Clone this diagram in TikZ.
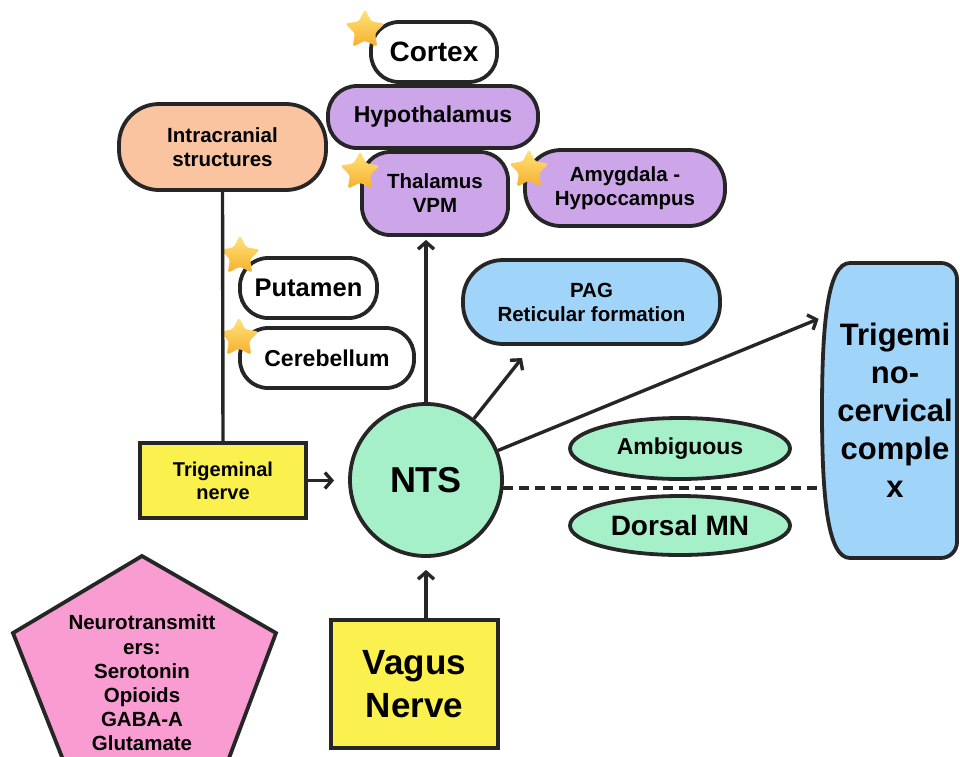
\documentclass[tikz,border=0pt]{standalone}
\usepackage{fontspec}
\setmainfont{Liberation Sans}
\usetikzlibrary{shapes.geometric,arrows.meta,calc}
\definecolor{purp}{HTML}{CDA6E9}
\definecolor{peach}{HTML}{F9C49F}
\definecolor{skyb}{HTML}{A0D4F8}
\definecolor{mint}{HTML}{A5F0C8}
\definecolor{yell}{HTML}{FAF04E}
\definecolor{pinkk}{HTML}{F89CD2}
\definecolor{stary}{HTML}{FFE57A}
\definecolor{staro}{HTML}{F7AE2E}
\newcommand\fz[2]{\bfseries\fontsize{#1}{#2}\selectfont}
\tikzset{
  box/.style={draw=black!85, line width=3.8pt, align=center, inner sep=0pt},
  pill/.style={box, rectangle},
  starmark/.style={star, star points=5, star point ratio=2.0, minimum size=42pt, inner sep=0pt,
    top color=stary, bottom color=staro, draw=none, rounded corners=3pt},
  arr/.style={line width=3.4pt, draw=black!85, -{Straight Barb[length=7pt,width=16pt,line width=3.4pt]}},
  link/.style={line width=3.4pt, draw=black!85},
}
\begin{document}
\begin{tikzpicture}[x=1pt,y=-1pt]
\useasboundingbox (0,0) rectangle (960,756);
\clip (0,0) rectangle (960,756);
% top cluster
\node[pill, fill=white, minimum width=126, minimum height=60, rounded corners=28pt, font=\fz{28}{32}] (cortex) at (434,52) {Cortex};
\node[pill, fill=purp, minimum width=210, minimum height=62, rounded corners=29pt, font=\fz{23}{27}] (hypo) at (433,117) {Hypothalamus};
\node[pill, fill=purp, minimum width=146, minimum height=83, rounded corners=28pt, font=\fz{20.5}{24}] (thal) at (435,193.5) {Thalamus\\VPM};
\node[pill, fill=purp, minimum width=200, minimum height=76, rounded corners=36pt, font=\fz{20.5}{24}] (amyg) at (625,188) {Amygdala -\\Hypoccampus};
\node[pill, fill=peach, minimum width=207, minimum height=86, rounded corners=40pt, font=\fz{20.5}{24}] (intra) at (222.5,147) {Intracranial\\structures};
\node[pill, fill=white, minimum width=137, minimum height=60, rounded corners=28pt, font=\fz{25.5}{30}] (put) at (308.5,288) {Putamen};
\node[pill, fill=white, minimum width=174, minimum height=60, rounded corners=28pt, font=\fz{23}{27}] (cereb) at (327,358) {Cerebellum};
\node[pill, fill=skyb, minimum width=257, minimum height=84, rounded corners=40pt, font=\fz{20.5}{24}] (pag) at (591.5,302) {PAG\\Reticular formation};
% middle
\node[box, rectangle, fill=yell, minimum width=166, minimum height=75, font=\fz{20}{23}] (trig) at (223,480.5) {Trigeminal\\nerve};
\node[box, circle, fill=mint, minimum size=152, font=\fz{36}{40}] (nts) at (426,480) {NTS};
\node[box, ellipse, fill=mint, minimum width=220, minimum height=61, font=\fz{23}{27}] (amb) at (680,448.5) {Ambiguous};
\node[box, ellipse, fill=mint, minimum width=220, minimum height=59, font=\fz{28}{32}] (dmn) at (680,525.5) {Dorsal MN};
\draw[line width=3.8pt, draw=black!85, fill=skyb] (850,558) .. controls (828,558) and (822,500) .. (822,410.5)
  .. controls (822,321) and (828,263) .. (850,263)
  [rounded corners=16pt] -- (957,263) -- (957,558) [sharp corners] -- cycle;
\node[align=center, inner sep=0pt, minimum width=135, minimum height=295, font=\fz{31}{38}] (tcc) at (890,410.5) {\hspace*{10pt}Trigemi\\\hspace*{10pt}no-\\\hspace*{10pt}cervical\\\hspace*{10pt}comple\\\hspace*{10pt}x};
% bottom
\node[box, rectangle, fill=yell, minimum width=167, minimum height=128, font=\fz{35}{43}] (vagus) at (414.5,684) {Vagus\\Nerve};
\draw[line width=3.8pt, draw=black!85, fill=pinkk] (142,556) -- (276,633) -- (217,790) -- (75,790) -- (13,633) -- cycle;
\node[align=center, font=\fz{20.5}{24.2}] (nt) at (142,683) {Neurotransmitt\\ers:\\Serotonin\\Opioids\\GABA-A\\Glutamate};
% stars
\node[starmark] (s1) at (365,30) {};
\node[starmark] (s2) at (360,172) {};
\node[starmark] (s3) at (529,170) {};
\node[starmark] (s4) at (240,256) {};
\node[starmark] (s5) at (239,338) {};
% connectors
\coordinate (pagend) at (522,358);
\draw[link] (intra.south) -- (trig.north);
\draw[arr, shorten >=14pt] (trig.east) -- (trig.east -| nts.west);
\draw[arr, shorten >=3pt] (nts.north) -- (nts.north |- thal.south);
\draw[arr] (nts.52) -- (pagend);
\draw[arr, shorten >=4pt] (nts) -- (tcc.126);
\draw[link, dash pattern=on 10pt off 6pt] (nts.-6) -- (nts.-6 -| tcc.west);
\draw[arr, shorten >=12pt] (vagus.north -| nts) -- (nts.south);
\end{tikzpicture}
\end{document}
